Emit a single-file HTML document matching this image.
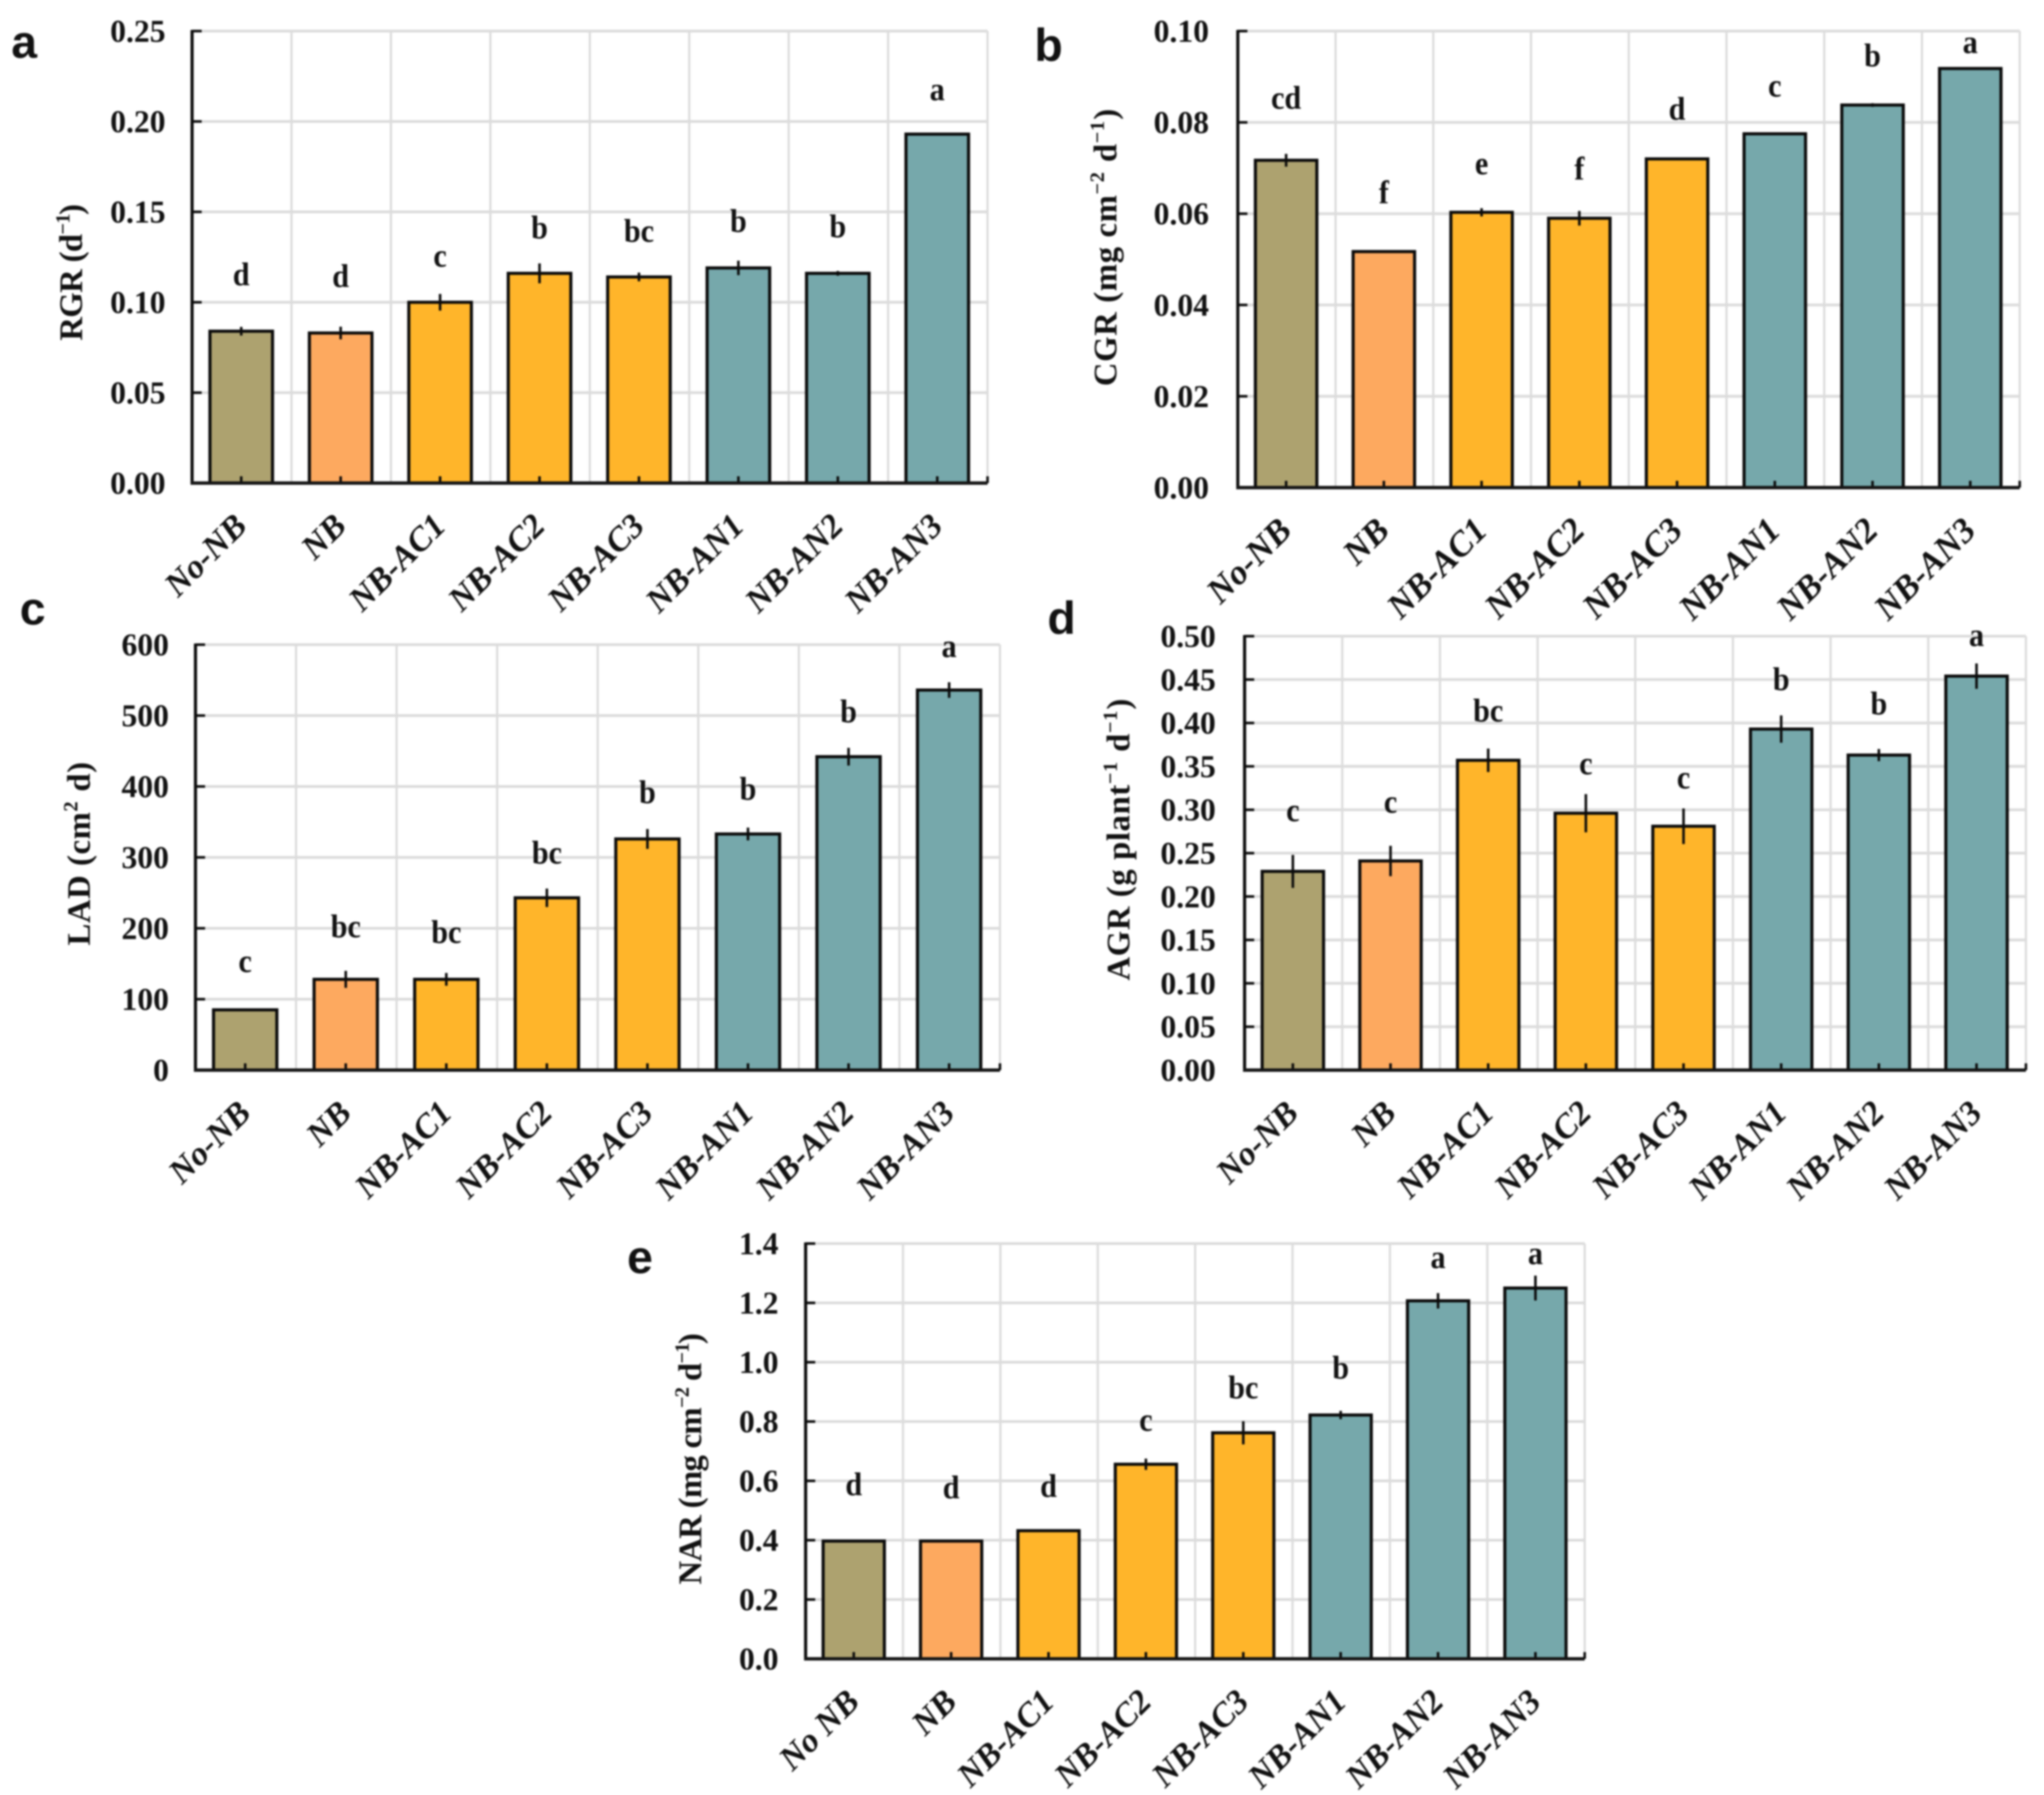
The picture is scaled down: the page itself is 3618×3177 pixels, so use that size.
<!DOCTYPE html>
<html lang="en">
<head>
<meta charset="utf-8">
<title>Growth indices bar charts</title>
<style>
  html, body { margin: 0; padding: 0; background: #fff; }
  body { width: 3618px; height: 3177px; overflow: hidden; }
  #figure { display: block; filter: blur(1.6px); }
  text { font-family: "Liberation Serif", serif; fill: #111; }
</style>
</head>
<body>
<svg id="figure" xmlns="http://www.w3.org/2000/svg" width="3618" height="3177" viewBox="0 0 3618 3177"></svg>
<script>
const categories = ["No-NB", "NB", "NB-AC1", "NB-AC2", "NB-AC3", "NB-AN1", "NB-AN2", "NB-AN3"];
const categoriesE = ["No NB", "NB", "NB-AC1", "NB-AC2", "NB-AC3", "NB-AN1", "NB-AN2", "NB-AN3"];
const barColors = ["#ADA26F", "#FDA95F", "#FFB52A", "#FFB52A", "#FFB52A", "#76A8AB", "#76A8AB", "#76A8AB"];

const rgrTicks = ["0.00", "0.05", "0.10", "0.15", "0.20", "0.25"];
const rgrValues = [0.084, 0.083, 0.100, 0.116, 0.114, 0.119, 0.116, 0.193];
const rgrErrors = [0.0024, 0.0035, 0.0046, 0.0055, 0.0024, 0.004, 0.0013, 0.0005];
const rgrLetters = ["d", "d", "c", "b", "bc", "b", "b", "a"];
const rgrLift = [0.026, 0.026, 0.0203, 0.02, 0.02, 0.0206, 0.0206, 0.0194];

const cgrTicks = ["0.00", "0.02", "0.04", "0.06", "0.08", "0.10"];
const cgrValues = [0.0717, 0.0517, 0.0603, 0.059, 0.072, 0.0775, 0.0838, 0.0918];
const cgrErrors = [0.0014, 0.0003, 0.0009, 0.0016, 0.0002, 0.0001, 0.0004, 0.0002];
const cgrLetters = ["cd", "f", "e", "f", "d", "c", "b", "a"];
const cgrLift = [0.0115, 0.0108, 0.0086, 0.0087, 0.0088, 0.0084, 0.0087, 0.0036];

const ladTicks = ["0", "100", "200", "300", "400", "500", "600"];
const ladValues = [85, 128, 128, 243, 326, 333, 442, 536];
const ladErrors = [1, 12, 9, 13, 14, 9, 12.5, 11];
const ladLetters = ["c", "bc", "bc", "bc", "b", "b", "b", "a"];
const ladLift = [55, 61, 53, 50, 52, 50, 50, 48];

const agrTicks = ["0.00", "0.05", "0.10", "0.15", "0.20", "0.25", "0.30", "0.35", "0.40", "0.45", "0.50"];
const agrValues = [0.229, 0.241, 0.357, 0.296, 0.281, 0.393, 0.363, 0.454];
const agrErrors = [0.019, 0.0175, 0.0135, 0.022, 0.0205, 0.0157, 0.007, 0.0146];
const agrLetters = ["c", "c", "bc", "c", "c", "b", "b", "a"];
const agrLift = [0.059, 0.057, 0.046, 0.046, 0.045, 0.046, 0.048, 0.036];

const narTicks = ["0.0", "0.2", "0.4", "0.6", "0.8", "1.0", "1.2", "1.4"];
const narValues = [0.397, 0.397, 0.432, 0.656, 0.762, 0.822, 1.207, 1.25];
const narErrors = [0.002, 0.002, 0.004, 0.019, 0.039, 0.014, 0.026, 0.042];
const narLetters = ["d", "d", "d", "c", "bc", "b", "a", "a"];
const narLift = [0.158, 0.148, 0.118, 0.116, 0.12, 0.127, 0.114, 0.084];

const SVG_NS = "http://www.w3.org/2000/svg";
const figure = document.getElementById("figure");

function mk(parent, tag, attrs, content) {
  const el = document.createElementNS(SVG_NS, tag);
  for (const k in attrs) el.setAttribute(k, attrs[k]);
  if (content !== undefined) el.textContent = content;
  parent.appendChild(el);
  return el;
}

function drawPanel(p) {
  const group = mk(figure, "g", {});
  
  

  const yMax = parseFloat(p.ticks[p.ticks.length - 1]);
  const yScale = v => p.y0 - (v / yMax) * (p.y0 - p.yTop);
  const band = (p.xRight - p.xLeft) / p.cats.length;
  const xCenter = i => p.xLeft + band * (i + 0.5) - 1;

  // panel letter
  const panelLabel = mk(group, "text", { x: p.labelX, y: p.labelY, "font-size": 82, "font-weight": "bold", style: 'font-family:"Liberation Sans",sans-serif' }, p.id);
  
  

  // gridlines
  p.ticks.forEach((t, i) => {
    if (i === 0) return;
    const v = parseFloat(t);
    const line = mk(group, "line", { x1: p.xLeft, x2: p.xRight, y1: yScale(v), y2: yScale(v), stroke: "#dcdcdc", "stroke-width": 5 });
    
    
  });
  p.cats.forEach((c, i) => {
    const x = p.xLeft + band * (i + 1);
    const line = mk(group, "line", { x1: x, x2: x, y1: p.yTop, y2: p.y0, stroke: "#dcdcdc", "stroke-width": 4 });
    
    
  });

  // bars, errors, letters
  const barW = band * 0.66;
  p.values.forEach((v, i) => {
    const cx = xCenter(i);
    const top = yScale(v);
    const bar = mk(group, "rect", { x: cx - barW / 2 + 2.7, y: top, width: barW - 5.4, height: p.y0 - top, fill: barColors[i], stroke: "#0a0a0a", "stroke-width": 5.5 });
    
    

    const err = mk(group, "line", { x1: cx, x2: cx, y1: yScale(v + p.errors[i]), y2: yScale(v - p.errors[i]), stroke: "#0a0a0a", "stroke-width": 4.5 });
    
    

    const ly = yScale(v + p.lift[i]) + 2;
    const letter = mk(group, "text", { x: 0, y: 0, "font-size": 58, "font-weight": "bold", "text-anchor": "middle", transform: "translate(" + cx + " " + ly + ") scale(0.92 1)" }, p.letters[i]);
    
    

    const tick = mk(group, "line", { x1: cx, x2: cx, y1: p.y0 - 12, y2: p.y0, stroke: "#0a0a0a", "stroke-width": 4.5 });
    
    

    const ax = cx + 13, ay = p.y0 + 79;
    const catLabel = mk(group, "text", { x: ax, y: ay, "font-size": p.catSize, "font-weight": "bold", "font-style": "italic", "text-anchor": "end", transform: "rotate(-45 " + ax + " " + ay + ")" }, p.cats[i]);
    
    
  });

  // y ticks + labels
  p.ticks.forEach(t => {
    const v = parseFloat(t);
    const y = yScale(v);
    const tick = mk(group, "line", { x1: p.xLeft, x2: p.xLeft + 17, y1: y, y2: y, stroke: "#0a0a0a", "stroke-width": 4.5 });
    
    

    const lab = mk(group, "text", { x: p.xLeft - p.tickGap, y: y + 19, "font-size": 56, "font-weight": "bold", "text-anchor": "end" }, t);
    
    
  });

  // axes
  const yAxis = mk(group, "line", { x1: p.xLeft, x2: p.xLeft, y1: p.yTop - 2, y2: p.y0 + 3, stroke: "#0a0a0a", "stroke-width": 5.5 });
  
  

  const xAxis = mk(group, "line", { x1: p.xLeft - 2, x2: p.xRight, y1: p.y0, y2: p.y0, stroke: "#151515", "stroke-width": 6 });
  
  

  const endTick = mk(group, "line", { x1: p.xRight, x2: p.xRight, y1: p.y0 - 12, y2: p.y0, stroke: "#0a0a0a", "stroke-width": 4.5 });
  
  

  // y axis title
  const title = mk(group, "text", { x: p.titleX + 19, y: p.titleY, "font-size": 58, "font-weight": "bold", "text-anchor": "middle", textLength: p.titleLen, lengthAdjust: "spacing", transform: "rotate(-90 " + (p.titleX + 19) + " " + p.titleY + ")" });
  
  
  p.title.forEach(part => {
    if (part[1]) {
      mk(title, "tspan", { dy: -22, "font-size": 36 }, part[0]);
      mk(title, "tspan", { dy: 22 }, "\u200b");
    } else {
      mk(title, "tspan", {}, part[0]);
    }
  });
}

drawPanel({ id: "a", cats: categories, ticks: rgrTicks, values: rgrValues, errors: rgrErrors, letters: rgrLetters, lift: rgrLift,
  xLeft: 340, xRight: 1748, yTop: 55, y0: 855, tickGap: 47, labelX: 20, labelY: 102, catSize: 60,
  titleX: 126, titleY: 482, titleLen: 242, title: [["RGR (d"], ["\u22121", 1], [")"]] });

drawPanel({ id: "b", cats: categories, ticks: cgrTicks, values: cgrValues, errors: cgrErrors, letters: cgrLetters, lift: cgrLift,
  xLeft: 2191, xRight: 3575, yTop: 55, y0: 863, tickGap: 51, labelX: 1831, labelY: 108, catSize: 62,
  titleX: 1957, titleY: 438, titleLen: 491, title: [["CGR (mg cm"], ["\u22122", 1], [" d"], ["\u22121", 1], [")"]] });

drawPanel({ id: "c", cats: categories, ticks: ladTicks, values: ladValues, errors: ladErrors, letters: ladLetters, lift: ladLift,
  xLeft: 346, xRight: 1770, yTop: 1141, y0: 1894, tickGap: 47, labelX: 35, labelY: 1105, catSize: 60,
  titleX: 140, titleY: 1511, titleLen: 325, title: [["LAD  (cm"], ["2", 1], [" d)"]] });

drawPanel({ id: "d", cats: categories, ticks: agrTicks, values: agrValues, errors: agrErrors, letters: agrLetters, lift: agrLift,
  xLeft: 2203, xRight: 3586, yTop: 1126, y0: 1894, tickGap: 51, labelX: 1854, labelY: 1122, catSize: 60,
  titleX: 1980, titleY: 1486, titleLen: 499, title: [["AGR (g plant"], ["\u22121", 1], [" d"], ["\u22121", 1], [")"]] });

drawPanel({ id: "e", cats: categoriesE, ticks: narTicks, values: narValues, errors: narErrors, letters: narLetters, lift: narLift,
  xLeft: 1426, xRight: 2805, yTop: 2201, y0: 2936, tickGap: 48, labelX: 1110, labelY: 2253, catSize: 60,
  titleX: 1222, titleY: 2582, titleLen: 445, title: [["NAR (mg cm"], ["\u22122", 1], [" d"], ["\u22121", 1], [")"]] });
</script>
</body>
</html>
